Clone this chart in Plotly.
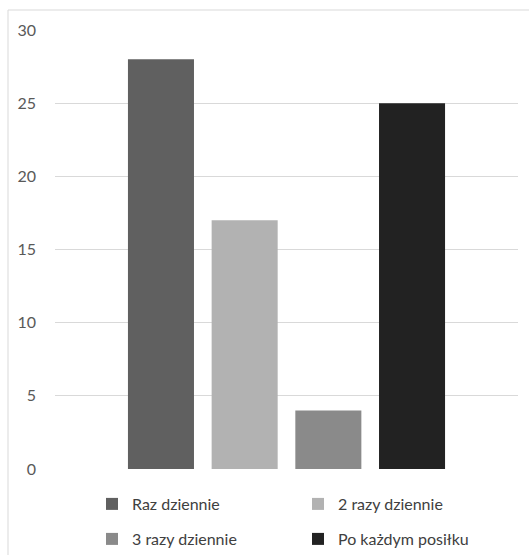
import plotly.graph_objects as go

# Survey answers: how often teeth are brushed
category = [""]
series_names = ["Raz dziennie", "2 razy dziennie", "3 razy dziennie", "Po każdym posiłku"]
series_values = [28, 17, 4, 25]
series_colors = ["#606060", "#B2B2B2", "#8A8A8A", "#222222"]
y_ticks = [0, 5, 10, 15, 20, 25, 30]

fig = go.Figure()
for i, (name, val, col) in enumerate(zip(series_names, series_values, series_colors)):
    fig.add_trace(go.Bar(
        x=category, y=[val], name=name,
        marker=dict(color=col, line=dict(width=0)),
        legend="legend" if i < 2 else "legend2",
    ))

W, H = 529, 555
ml, mr, mt, mb = 55, 11, 30, 86
pw, ph = W - ml - mr, H - mt - mb

legend_common = dict(
    orientation="h", xanchor="left", yanchor="middle",
    entrywidth=161, entrywidthmode="pixels",
    font=dict(family="Lato, Carlito, sans-serif", size=16, color="#404040"),
    bgcolor="rgba(0,0,0,0)", itemclick=False, itemdoubleclick=False,
    traceorder="normal",
)

fig.update_layout(
    width=W, height=H,
    margin=dict(l=ml, r=mr, t=mt, b=mb, autoexpand=False),
    paper_bgcolor="white", plot_bgcolor="white",
    barmode="group", bargap=0.277, bargroupgap=0.211,
    font=dict(family="Lato, Carlito, sans-serif", size=16, color="#595959"),
    xaxis=dict(showticklabels=False, showgrid=False, zeroline=False,
               showline=False, ticks="", fixedrange=True),
    yaxis=dict(range=[0, 30], tickvals=y_ticks, showgrid=True,
               gridcolor="#D9D9D9", gridwidth=1, zeroline=False,
               showline=False, ticks="", ticklabelstandoff=18,
               tickfont=dict(size=16, color="#595959"), fixedrange=True),
    legend=dict(x=(92 - ml) / pw, y=(H - mb - 504) / ph, **legend_common),
    legend2=dict(x=(92 - ml) / pw, y=(H - mb - 539) / ph, **legend_common),
    showlegend=True,
)

# Chart frame
fig.add_shape(type="rect", xref="paper", yref="paper",
              x0=(8 - ml) / pw, x1=(540 - ml) / pw,
              y0=(H - mb - 570) / ph, y1=(H - mb - 10) / ph,
              line=dict(color="#D9D9D9", width=1), fillcolor="rgba(0,0,0,0)",
              layer="below")

fig.write_html("out.html")
